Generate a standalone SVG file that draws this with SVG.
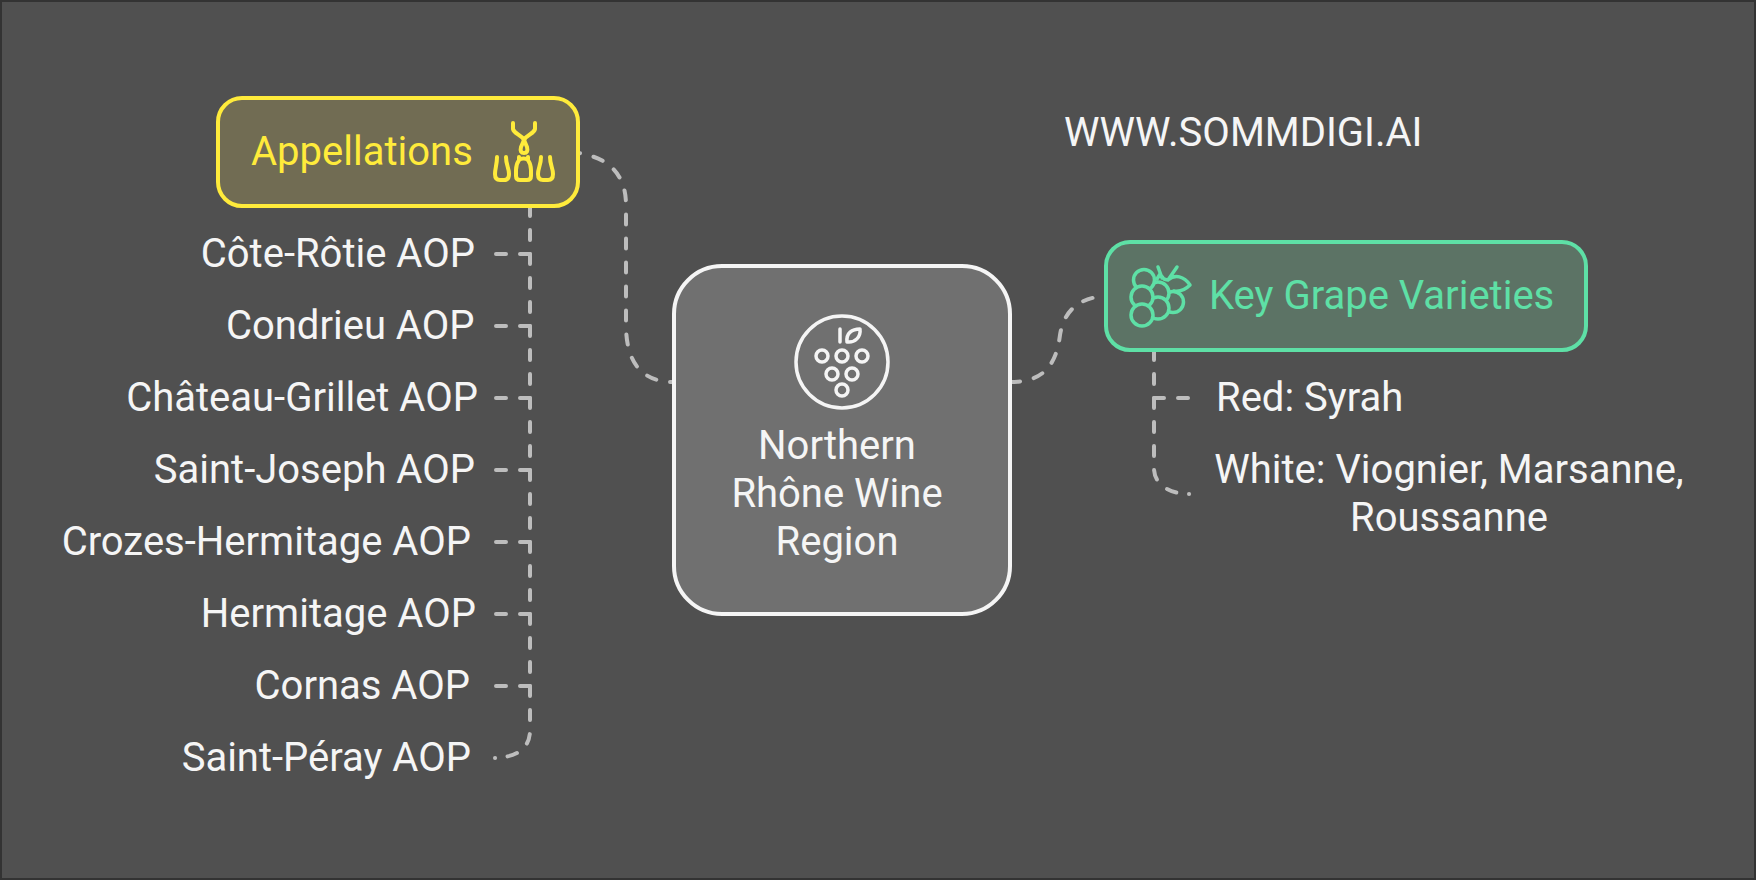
<svg xmlns="http://www.w3.org/2000/svg" width="1756" height="880" viewBox="0 0 1756 880">
<style>
text{font-family:Roboto,"Noto Sans",sans-serif;font-size:40px;fill:#f5f5f5}
.m{text-anchor:middle}
.e{text-anchor:end}
.c{fill:none;stroke:#bdbdbd;stroke-width:4;stroke-linecap:round;stroke-dasharray:10 14}
.d{fill:none;stroke:#bdbdbd;stroke-width:4;stroke-linecap:round}
.y{fill:none;stroke:#ffeb3b;stroke-width:4;stroke-linecap:round;stroke-linejoin:round}
.g{fill:#5c7365;stroke:#5ee0a6;stroke-width:3.500;stroke-linecap:round;stroke-linejoin:round}
.l{fill:none;stroke:#5ee0a6;stroke-width:3.500;stroke-linecap:round;stroke-linejoin:round}
.w{fill:none;stroke:#f5f5f5;stroke-width:3.500;stroke-linecap:round;stroke-linejoin:round}
</style>
<rect width="1756" height="880" fill="#333"/>
<rect x="2" y="2" width="1752" height="876" fill="#505050"/>
<g id="connectors">
<path class="c" d="M570 152C606 155 626 172 626 205V325C626 360 640 382 673 382"/>
<path class="c" d="M1010 382C1042 382 1056 367 1060 335C1064 310 1080 296 1110 296"/>
<path class="c" d="M530 206V730C530 750 515 757 495 758"/>
<path class="d" d="M495 758h.1"/>
<path class="c" d="M530 254H495M530 326H495M530 398H495M530 470H495M530 542H495M530 614H495M530 686H495"/>
<path class="c" d="M1154 350V468C1154 485 1170 494 1189 494"/>
<path class="d" d="M1189 494h.1"/>
<path class="c" d="M1154 398H1192"/>
</g>
<g id="appellations">
<rect x="218" y="98" width="360" height="108" rx="24" fill="#716c53" stroke="#ffeb3b" stroke-width="4"/>
<text x="251" y="165" style="fill:#ffeb3b">Appellations</text>
<path class="y" d="M513 123V129C514 134 521 134 524 140M535 123V129C534 134 527 134 524 140"/>
<path class="y" d="M524 140L521 147C520 151 521 153 524 153C527 153 528 151 527 147Z"/>
<path class="y" d="M497 157C497 165 495 168 495 174C495 178 497 180 500 180H504C507 180 509 178 509 174C509 168 506 165 506 157"/>
<path class="y" d="M519 157V160C517 163 516 166 516 170V176C516 179 518 180 520 180H527C529 180 531 179 531 176V170C531 166 530 163 528 160V157M519 160C521 158 526 158 528 160"/>
<path class="y" d="M541 157C541 165 538 168 538 174C538 178 540 180 543 180H548C551 180 553 178 553 174C553 168 550 165 550 157"/>
</g>
<g id="appellation-items">
<text x="475" y="267" class="e">Côte-Rôtie AOP</text>
<text x="474.500" y="339" class="e">Condrieu AOP</text>
<text x="478" y="411" class="e">Château-Grillet AOP</text>
<text x="475" y="483" class="e">Saint-Joseph AOP</text>
<text x="471" y="555" class="e">Crozes-Hermitage AOP</text>
<text x="476" y="627" class="e">Hermitage AOP</text>
<text x="470" y="699" class="e">Cornas AOP</text>
<text x="471" y="771" class="e">Saint-Péray AOP</text>
</g>
<g id="center">
<rect x="674" y="266" width="336" height="348" rx="48" fill="#707070" stroke="#f5f5f5" stroke-width="4"/>
<circle cx="842" cy="362" r="46" class="w"/>
<path class="w" d="M840 329V342M847 342C846 333 852 329 860 329C861 337 855 343 847 342Z"/>
<circle cx="822" cy="356" r="6" class="w"/><circle cx="842" cy="356" r="6" class="w"/><circle cx="862" cy="356" r="6" class="w"/>
<circle cx="832" cy="374" r="6" class="w"/><circle cx="852" cy="374" r="6" class="w"/><circle cx="842" cy="390" r="6" class="w"/>
<text x="837" y="459" class="m">Northern</text>
<text x="837" y="507" class="m">Rhône Wine</text>
<text x="837" y="555" class="m">Region</text>
</g>
<g id="grapes">
<rect x="1106" y="242" width="480" height="108" rx="24" fill="#5c7365" stroke="#5ee0a6" stroke-width="4"/>
<path class="l" d="M1158 267L1162 278M1177 267L1168 280M1157 279L1160 274L1164 279C1167 280 1168 280 1168 280M1168 280C1175 274 1184 276 1190 285C1185 290 1180 292 1174 291"/>
<circle cx="1173" cy="302" r="10.500" class="g"/>
<circle cx="1158" cy="293" r="11" class="g"/>
<circle cx="1158" cy="308" r="11" class="g"/>
<circle cx="1144" cy="280" r="10.500" class="g"/>
<circle cx="1142" cy="297" r="11" class="g"/>
<circle cx="1142" cy="315" r="11" class="g"/>
<text x="1209" y="309" style="fill:#5ee0a6">Key Grape Varieties</text>
</g>
<g id="grape-items">
<text x="1216" y="411">Red: Syrah</text>
<text x="1449" y="483" class="m">White: Viognier, Marsanne,</text>
<text x="1449" y="531" class="m">Roussanne</text>
</g>
<text id="site" x="1064" y="146">WWW.SOMMDIGI.AI</text>
</svg>
